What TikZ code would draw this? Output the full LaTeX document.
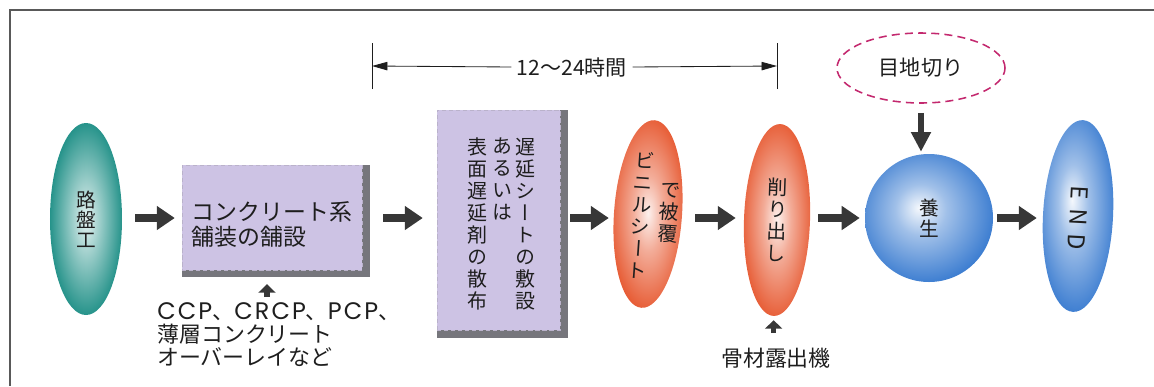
\documentclass[tikz,border=0pt]{standalone}
\usepackage{fontspec}
\usetikzlibrary{arrows.meta,shapes.geometric,backgrounds}
\newfontfamily\jp{Noto Sans CJK JP}
\newfontfamily\jpv[RawFeature=+vert]{Noto Sans CJK JP}
\newfontfamily\latin[LetterSpace=9]{Poppins}
\definecolor{tealc}{RGB}{0,128,118}
\definecolor{orangec}{RGB}{228,72,28}
\definecolor{bluec}{RGB}{45,115,205}
\definecolor{sheetc}{RGB}{205,195,228}
\definecolor{shadowc}{RGB}{118,118,124}
\definecolor{arrowc}{RGB}{55,55,55}
\definecolor{dashc}{RGB}{195,40,110}
\definecolor{inkc}{RGB}{30,30,30}
\pgfdeclareradialshading{tealball}{\pgfpoint{0bp}{0bp}}{color(0bp)=(white!90!tealc); color(10bp)=(white!60!tealc); color(30bp)=(tealc); color(50bp)=(tealc!80!black)}
\pgfdeclareradialshading{orangeball}{\pgfpoint{0bp}{0bp}}{color(0bp)=(white!92!orangec); color(10bp)=(white!55!orangec); color(30bp)=(orangec); color(50bp)=(orangec!85!black)}
\pgfdeclareradialshading{blueball}{\pgfpoint{-4bp}{4bp}}{color(0bp)=(white!95!bluec); color(10bp)=(white!55!bluec); color(30bp)=(bluec); color(50bp)=(bluec!90!black)}
\tikzset{
  ball/.style={ellipse, inner sep=0pt, text=inkc},
  sheet/.style={rectangle, fill=sheetc, draw=sheetc!75!gray, densely dashed, line width=0.3pt},
  tate/.style={font=\jpv\fontsize{14.2}{15.65}\selectfont, align=center, inner sep=0pt, text=inkc},
  yoko/.style={font=\jp\fontsize{15.6}{16.6}\selectfont, align=left, inner sep=0pt, text=inkc},
  flow/.style={draw=arrowc, line width=5.7pt, -{Triangle[length=12.8pt,width=16.4pt]}},
  feed/.style={draw=arrowc, line width=4pt, -{Triangle[length=6pt,width=12pt]}},
  dimline/.style={draw=inkc, line width=0.6pt}
}
\begin{document}
\begin{tikzpicture}[x=0.25mm,y=-0.25mm]
\useasboundingbox (0,0) rectangle (1154,386);
\draw[gray!70!black, line width=1.1pt] (1154,10) -- (10,10) -- (10,386);
\coordinate (axis) at (0,218);

% process steps
\node[ball, minimum width=18mm, minimum height=48mm, shading=tealball, font=\jpv\fontsize{14}{14.3}\selectfont, align=center] (roban) at (86,219) {路\\盤\\工};
\node[sheet, minimum width=45mm, minimum height=26.25mm] (pave) at (272,217.5) {};
\node[yoko, font=\jp\fontsize{16.3}{17.8}\selectfont] (pavetext) at (272,224.5) {コンクリート系\\舗装の舗設};
\node[sheet, minimum width=30.75mm, minimum height=55mm] (retard) at (498.5,220) {};
\node[tate] (retardR) at (525,224) {遅\\延\\シ\\ー\\ト\\の\\敷\\設};
\node[tate] (retardM) at (502,179) {あ\\る\\い\\は};
\node[tate] (retardL) at (477,224) {表\\面\\遅\\延\\剤\\の\\散\\布};
\node[ball, minimum width=17mm, minimum height=47mm, shading=orangeball, rotate=-4] (vinyl) at (648,214) {};
\node[tate, rotate=-4] (vinylL) at (641,215) {ビ\\ニ\\ル\\シ\\ー\\ト};
\node[tate, rotate=-4] (vinylR) at (669,213) {で\\被\\覆};
\node[ball, minimum width=16.5mm, minimum height=48mm, shading=orangeball, rotate=-2, font=\jpv\fontsize{14.2}{15.65}\selectfont, align=center] (cut) at (777,220) {削\\り\\出\\し};
\node[ball, circle, minimum size=32mm, shading=blueball, font=\jpv\fontsize{14}{14.6}\selectfont, align=center] (cure) at (929,218) {養\\生};
\node[ball, minimum width=17.5mm, minimum height=48mm, shading=blueball, rotate=-3] (finish) at (1078,216) {};
\node[text=inkc, font=\jp\fontsize{16.5}{16.5}\selectfont, rotate=-93] (endtext) at (1078,218) {E\hspace{6pt}N\hspace{6pt}D};

% side inputs
\node[ball, draw=dashc, dash pattern=on 2mm off 1.3mm, line width=1.1pt, minimum width=42mm, minimum height=17.5mm, font=\jp\fontsize{15}{15}\selectfont] (joint) at (921,68) {目地切り};
\node[yoko, anchor=north west] (pavenote) at (157,302) {{\latin\fontsize{17}{16}\selectfont CCP}、{\latin\fontsize{17}{16}\selectfont CRCP}、{\latin\fontsize{17}{16}\selectfont PCP}、\\薄層コンクリート\\オーバーレイなど};
\node[yoko] (cutnote) at (776,358) {骨材露出機};

% arrows
\draw[flow, shorten <=3.25mm, shorten >=1.75mm] (roban.east |- axis) -- (pave.west |- axis);
\draw[flow, shorten <=5.25mm, shorten >=3.5mm] (pave.east |- axis) -- (retard.west |- axis);
\draw[flow, shorten <=2.5mm, shorten >=1.25mm] (retard.east |- axis) -- (vinyl.west |- axis);
\draw[flow, shorten <=3.25mm, shorten >=2mm] (vinyl.east |- axis) -- (cut.west |- axis);
\draw[flow, shorten <=2mm, shorten >=1.25mm] (cut.east |- axis) -- (cure.west |- axis);
\draw[flow, shorten <=1mm, shorten >=1.5mm] (cure.east |- axis) -- (finish.west |- axis);
\draw[draw=arrowc, line width=4.8pt, -{Triangle[length=14pt,width=13.5pt]}, shorten <=2.25mm, shorten >=0.5mm] (joint.south) -- (joint.south |- cure.north);
\draw[feed] ([shift={(-5,27)}]pave.south) -- ([shift={(-5,14)}]pave.south);
\draw[feed] ([shift={(0,17)}]cut.south) -- ([shift={(0,4)}]cut.south);

% 12-24 h span
\coordinate (span0) at (372,66);
\coordinate (span1) at (777,66);
\node[text=inkc, font=\jp\fontsize{15}{15}\selectfont, inner xsep=1.3mm, inner ysep=0pt] (span) at (572,67) {12～24時間};
\draw[dimline] ([yshift=-5.75mm]span0) -- ([yshift=5.75mm]span0);
\draw[dimline] ([yshift=-5.75mm]span1) -- ([yshift=5.75mm]span1);
\draw[dimline, -{Triangle[length=11pt,width=6pt]}] (span.west) -- (span0);
\draw[dimline, -{Triangle[length=11pt,width=6pt]}] (span.east) -- (span1);

\begin{scope}[on background layer]
\fill[shadowc] (pave.north west) rectangle ([shift={(8,7)}]pave.south east);
\fill[shadowc] (retard.north west) rectangle ([shift={(8,8)}]retard.south east);
\end{scope}
\end{tikzpicture}
\end{document}
